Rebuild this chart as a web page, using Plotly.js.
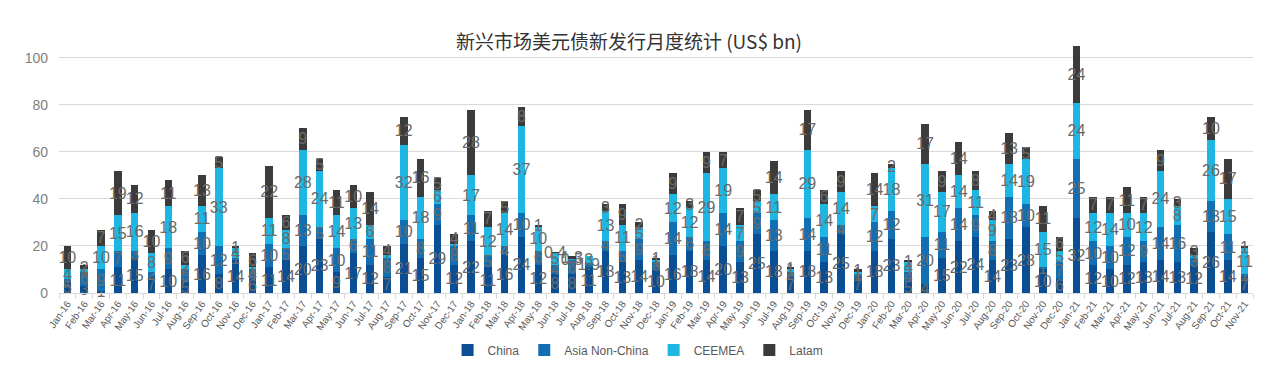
<!DOCTYPE html>
<html>
<head>
<meta charset="utf-8">
<script src="https://cdn.plot.ly/plotly-3.0.1.min.js"></script>
<style>html,body{margin:0;padding:0;background:#fff;}#chart{width:1281px;height:366px;}</style>
</head>
<body>
<div id="chart"></div>
<script>
const months = ["Jan-16","Feb-16","Mar-16","Apr-16","May-16","Jun-16","Jul-16","Aug-16","Sep-16","Oct-16","Nov-16","Dec-16",
"Jan-17","Feb-17","Mar-17","Apr-17","May-17","Jun-17","Jul-17","Aug-17","Sep-17","Oct-17","Nov-17","Dec-17",
"Jan-18","Feb-18","Mar-18","Apr-18","May-18","Jun-18","Jul-18","Aug-18","Sep-18","Oct-18","Nov-18","Dec-18",
"Jan-19","Feb-19","Mar-19","Apr-19","May-19","Jun-19","Jul-19","Aug-19","Sep-19","Oct-19","Nov-19","Dec-19",
"Jan-20","Feb-20","Mar-20","Apr-20","May-20","Jun-20","Jul-20","Aug-20","Sep-20","Oct-20","Nov-20","Dec-20",
"Jan-21","Feb-21","Mar-21","Apr-21","May-21","Jun-21","Jul-21","Aug-21","Sep-21","Oct-21","Nov-21"];

const china = [5,3,1,11,15,7,10,5,16,8,14,6,
11,14,20,23,9,17,12,7,21,15,29,12,
22,11,16,24,12,8,8,11,18,13,14,10,
16,18,14,20,13,25,18,7,18,13,25,7,
18,23,5,4,15,22,24,14,23,28,10,6,
32,12,10,12,13,14,13,12,26,14,7];

const asiaNonChina = [1,6,9,7,3,2,9,5,10,12,1,4,
10,5,13,5,10,6,11,8,10,8,9,8,
11,5,4,10,6,4,6,1.9,4,5,9,3,
14,6,8,14,9,9,13,2,14,11,4,1,
12,12,4,20,11,14,9,8,18,10,1,7,
25,10,10,12,9,14,16,3,13,11,1];

const ceemea = [4,1,10,15,16,8,18,2,11,33,4,1,
11,8,28,24,14,13,6,1,32,18,6,1,
17,12,14,37,10,5,0.5,3,13,11,5,1,
12,12,29,19,7,5,11,1,29,14,14,1,
7,18,4,31,17,14,11,9,14,19,15,5,
24,12,14,10,12,24,8,1,26,15,11];

const latam = [10,2,7,19,12,10,11,6,13,5,1,6,
22,6,9,5,11,10,14,4,12,16,5,4,
28,7,5,8,1,0.4,1.3,0,3,9,2,1,
9,3,9,7,7,5,14,1,17,6,9,1,
14,2,1,17,9,14,8,4,13,5,11,6,
24,7,7,11,7,9,3,3,10,17,1];

const seriesNames = ["China","Asia Non-China","CEEMEA","Latam"];
const seriesData = [china, asiaNonChina, ceemea, latam];
const colors = ["#0a4e94","#136fb3","#1eb7e3","#3b3b3b"];

const traces = seriesData.map((vals, i) => ({
  type: "bar",
  name: seriesNames[i],
  x: months,
  y: vals,
  text: vals.map(v => v > 0 ? String(v) : ""),
  textposition: "inside",
  insidetextanchor: "middle",
  textangle: 0,
  constraintext: "none",
  cliponaxis: false,
  textfont: {family: "Liberation Sans, Arial, sans-serif", size: 16, color: "#6b6b6b"},
  marker: {color: colors[i], line: {width: 0}},
  hoverinfo: "x+y+name"
}));

const layout = {
  width: 1281, height: 366,
  barmode: "stack",
  bargap: 0.55,
  paper_bgcolor: "#ffffff",
  plot_bgcolor: "#ffffff",
  margin: {l: 59, r: 28, t: 39, b: 73, autoexpand: false},
  font: {family: "Liberation Sans, Arial, sans-serif", color: "#595959"},
  title: {
    text: "新兴市场美元债新发行月度统计 (US$ bn)",
    font: {family: "Noto Sans CJK SC, sans-serif", size: 19, color: "#333333"},
    x: 0.491, xanchor: "center", y: 0.885, yanchor: "middle"
  },
  xaxis: {
    type: "category",
    tickangle: -55,
    tickfont: {size: 10, color: "#595959"},
    showline: true, linecolor: "#d9d9d9", linewidth: 1,
    ticks: "outside", tickson: "boundaries", ticklen: 5, tickcolor: "#d9d9d9",
    showgrid: false, automargin: false
  },
  yaxis: {
    range: [0, 108],
    tickvals: [0,20,40,60,80,100],
    tickfont: {size: 14, color: "#7f7f7f"},
    ticklabelstandoff: 10,
    showgrid: true, gridcolor: "#d9d9d9", gridwidth: 1,
    zeroline: false, showline: false, ticks: "", ticklen: 0,
    automargin: false
  },
  showlegend: true,
  legend: {
    orientation: "h", x: 0.485, xanchor: "center", y: -0.224, yanchor: "middle",
    font: {size: 12, color: "#595959"}, traceorder: "normal", itemwidth: 30
  }
};

Plotly.newPlot("chart", traces, layout, {displayModeBar: false, staticPlot: true});
</script>
</body>
</html>
